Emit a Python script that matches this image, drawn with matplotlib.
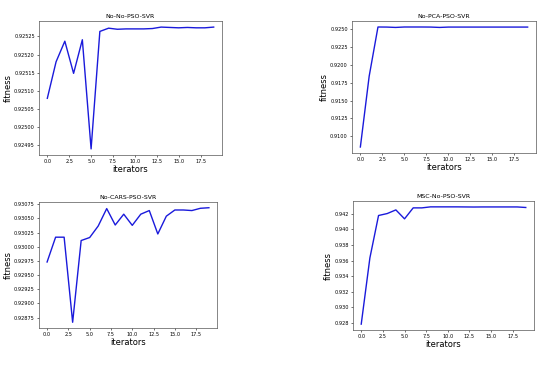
import matplotlib
matplotlib.use('Agg')
import matplotlib.pyplot as plt
import numpy as np

# iteration index shared by all four runs
iterators = np.arange(20)

no_no = [0.925079, 0.925180, 0.925237, 0.925148, 0.925241, 0.924939, 0.925264,
         0.925273, 0.925270, 0.925271, 0.925271, 0.925271, 0.925272, 0.925276,
         0.925275, 0.925274, 0.925275, 0.925274, 0.925274, 0.925276]
no_pca = [0.90851, 0.91840, 0.92528, 0.92527, 0.92522, 0.92528, 0.92528,
          0.92528, 0.92527, 0.92522, 0.92527, 0.92527, 0.92527, 0.92527,
          0.92527, 0.92527, 0.92527, 0.92527, 0.92527, 0.92527]
no_cars = [0.929732, 0.930170, 0.930170, 0.928668, 0.930111, 0.930164, 0.930367,
           0.930675, 0.930385, 0.930576, 0.930379, 0.930576, 0.930640, 0.930227,
           0.930541, 0.930650, 0.930650, 0.930640, 0.930680, 0.930690]
msc_no = [0.92783, 0.93634, 0.94179, 0.94204, 0.94251, 0.94136, 0.94277,
          0.94277, 0.94290, 0.94290, 0.94290, 0.94290, 0.94289, 0.94288,
          0.94289, 0.94289, 0.94289, 0.94289, 0.94289, 0.94282]

titles = ["No-No-PSO-SVR", "No-PCA-PSO-SVR", "No-CARS-PSO-SVR", "MSC-No-PSO-SVR"]
series = [no_no, no_pca, no_cars, msc_no]
yticks = [
    [0.92495, 0.92500, 0.92505, 0.92510, 0.92515, 0.92520, 0.92525],
    [0.9100, 0.9125, 0.9150, 0.9175, 0.9200, 0.9225, 0.9250],
    [0.92875, 0.92900, 0.92925, 0.92950, 0.92975, 0.93000, 0.93025, 0.93050, 0.93075],
    [0.928, 0.930, 0.932, 0.934, 0.936, 0.938, 0.940, 0.942],
]
yfmt = ["%.5f", "%.4f", "%.5f", "%.3f"]

# axes boxes in figure pixels: left, right, top, bottom
W, H = 550, 382
boxes = [(39, 222, 21, 155), (352, 536, 21, 153), (39, 217, 202, 328), (353, 534, 201, 330)]


def main():
    fig = plt.figure(figsize=(W / 100, H / 100), dpi=100)
    for box, name, ys, ticks, fmt in zip(boxes, titles, series, yticks, yfmt):
        l, r, t, b = box
        ax = fig.add_axes([l / W, 1 - b / H, (r - l) / W, (b - t) / H])
        ax.plot(iterators, ys, color='#1a1adb', linewidth=1.0)
        ax.set_title(name, fontsize=4.5, pad=2)
        ax.set_xlabel('iterators', fontsize=6, labelpad=0.5)
        ax.set_ylabel('fitness', fontsize=6, labelpad=1)
        ax.set_xticks(np.arange(0, 20, 2.5))
        ax.set_yticks(ticks)
        ax.set_yticklabels([fmt % v for v in ticks])
        ax.tick_params(labelsize=3.6, length=1.5, width=0.4, pad=1.5)
        for s in ax.spines.values():
            s.set_linewidth(0.5)
            s.set_color('#555555')
    fig.savefig('out.png', dpi=100)


if __name__ == "__main__":
    main()
